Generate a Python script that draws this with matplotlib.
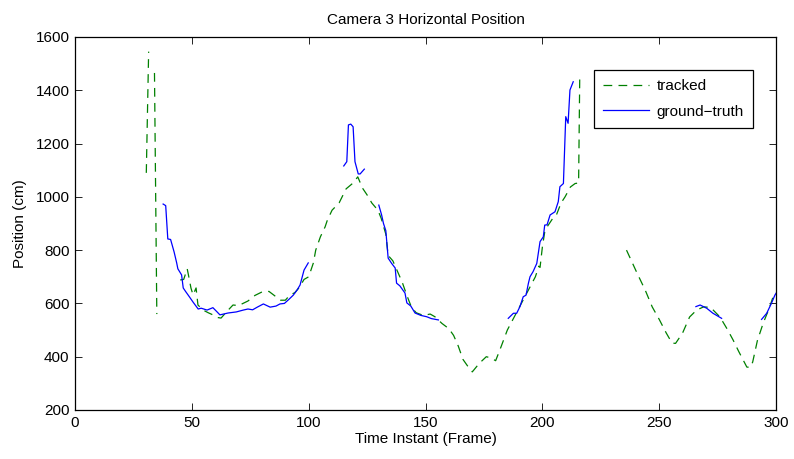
import matplotlib
matplotlib.use('Agg')
import matplotlib.pyplot as plt
import numpy as np

plt.rcParams['font.family'] = ['Liberation Sans', 'DejaVu Sans']

nan = np.nan

# tracked position (green dashed), NaN marks the gaps
tracked_x = [30.5, 31.5, nan, 34, 35, nan,
             45, 46.5, 48, 48.8, 49.6, 50.5, 51.8, 52.6, 54.8, 57, 59, 61, 62.5, 65, 67.6, 70, 74,
             77, 80, 83, 86, 88, 90, 92, 94, 96, 98, 100, 102, 103, 105, 107, 108, 110, 113, 116,
             119, 121, 123, 125, 127, 129.6, 131, 133, 134, 136, 138, 140, 142, 144, 146, 149, 152,
             154, 157, 160, 162, 164, 166, 168, 170, 173, 176, 178, 180, 182, 185, 188, 191, 194,
             197, 198.5, 199, 200, 201, 202, 204.5, 206, 208, 209.7, 212, 214, 215.5, 216, nan,
             236, 240.5, 244, 247, 250, 253, 255.5, 257, 260, 263, 266, 269, 272, 276, 279, 281.6,
             284, 287.5, 289, 290, 292, 294.5, 297, 298.7, 300]
tracked_y = [1090, 1545, nan, 1465, 560, nan,
             688, 690, 730, 695, 658, 632, 658, 594, 575, 565, 557, 547, 545, 570, 594, 592, 609,
             630, 643, 645, 625, 612, 612, 632, 640, 660, 690, 700, 752, 800, 850, 887, 913, 950, 977, 1030,
             1052, 1075, 1033, 1007, 977, 950, 920, 860, 780, 760, 720, 680, 630, 585, 565, 555, 560,
             550, 525, 505, 480, 440, 390, 365, 343, 375, 400, 395, 385, 430, 500, 550, 600, 650,
             700, 740, 735, 812, 868, 887, 920, 932, 977, 1000, 1037, 1050, 1052, 1460, nan,
             800, 714, 650, 587, 540, 489, 451, 450, 489, 549, 575, 587, 585, 549, 505, 463,
             420, 361, 360, 380, 460, 526, 580, 624, 640]

# ground truth (blue solid)
truth_x = [37.7, 38.8, 39.7, 40.9, 42.4, 43.5, 44, 45.6, 46.3, 47.3, 49, 50.5, 52.7, 54, 56.5, 59,
           60.8, 62, 65.5, 69, 72, 74, 76, 78, 80.6, 83.5, 86, 87.7, 89.6, 91.5, 93.4, 95, 96.3, 98, 99.8, nan,
           115, 116.3, 117, 118, 119, 119.8, 121.2, 122, 123.8, nan,
           130, 131.2, 132, 133, 134, 135.5, 137, 137.6, 139, 141.2, 142, 143.7, 145.5, 148, 150.5,
           152.5, 155.5, nan,
           185.4, 187.6, 189, 190.4, 191.8, 193, 194, 194.7, 196, 197.6, 199, 200.4, 201, 202,
           203.3, 205.4, 206.8, 207.5, 209, 210, 211, 211.8, 213.2, nan,
           265.7, 267.5, 270.3, 273, 276.7, nan,
           293.8, 296, 298, 299.5, 300.5]
truth_y = [973, 967, 842, 840, 793, 752, 730, 707, 658, 645, 624, 605, 579, 582, 575, 584,
           568, 557, 564, 568, 575, 579, 576, 586, 598, 586, 590, 598, 600, 615, 631, 650, 669, 725, 752, nan,
           1116, 1132, 1270, 1273, 1263, 1132, 1086, 1086, 1104, nan,
           969, 932, 900, 873, 770, 750, 733, 676, 666, 639, 602, 590, 564, 555, 550,
           543, 538, nan,
           544, 563, 563, 588, 625, 631, 675, 700, 719, 750, 832, 850, 894, 895,
           932, 944, 982, 1038, 1050, 1301, 1276, 1401, 1432, nan,
           588, 594, 582, 563, 544, nan,
           540, 563, 600, 631, 645]

fig = plt.figure(figsize=(7.94, 4.59), dpi=100)
ax = fig.add_axes([0.0945, 0.1068, 0.8829, 0.8126])

ax.plot(tracked_x, tracked_y, color='#008000', lw=0.9, dashes=(7, 5), label='tracked')
ax.plot(truth_x, truth_y, color='#0000ff', lw=0.9, label='ground\u2212truth')

ax.set_xlim(0, 300)
ax.set_ylim(200, 1600)
ax.set_xticks(np.arange(0, 301, 50))
ax.set_yticks(np.arange(200, 1601, 200))
ax.tick_params(direction='in', top=True, right=True, length=5, width=0.6, labelsize=11, pad=4)
for s in ax.spines.values():
    s.set_linewidth(0.9)

ax.set_title('Camera 3 Horizontal Position', fontsize=11, pad=9)
ax.set_xlabel('Time Instant (Frame)', fontsize=11, labelpad=2)
ax.set_ylabel('Position (cm)', fontsize=11, labelpad=6)

leg = ax.legend(loc='upper right', bbox_to_anchor=(0.967, 0.9115), borderaxespad=0,
                fontsize=11, handlelength=3.0, handletextpad=0.5, fancybox=False, framealpha=1,
                edgecolor='black', borderpad=0.6, labelspacing=0.75)
leg.get_frame().set_linewidth(0.9)

plt.savefig('out.png', dpi=100)
